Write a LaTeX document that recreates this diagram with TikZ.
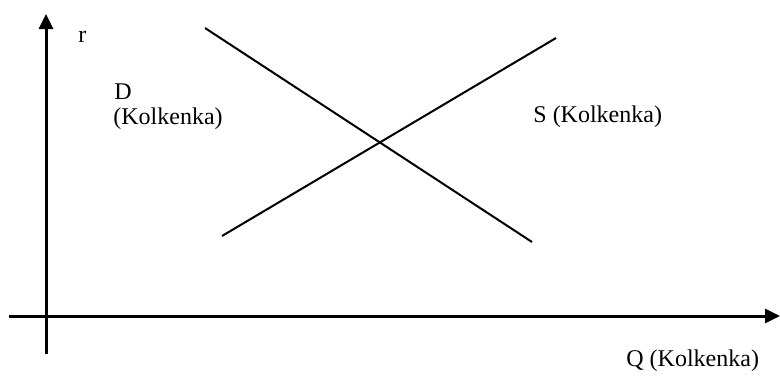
\documentclass[tikz,border=0pt]{standalone}
\usepackage{fontspec}
\setmainfont{Liberation Serif}
\usetikzlibrary{arrows.meta}
\begin{document}
\begin{tikzpicture}[x=0.5pt,y=-0.5pt,
    axis/.style={line width=1.5pt,-{Triangle[length=7.5pt,width=7pt]}},
    curve/.style={line width=1pt},
    lbl/.style={inner sep=0pt,anchor=base west,font=\fontsize{12}{14}\selectfont}]
    \useasboundingbox (0,0) rectangle (780,376);
    % axes
    \coordinate (o) at (46,354);
    \coordinate (rtop) at (46,14);
    \coordinate (qleft) at (9,316);
    \coordinate (qright) at (780,316);
    \draw[axis] (o) -- (rtop);
    \draw[axis] (qleft) -- (qright);
    % demand and supply
    \coordinate (dtop) at (205,28);
    \coordinate (dbot) at (532,242);
    \coordinate (sbot) at (222,236);
    \coordinate (stop) at (556,38);
    \draw[curve] (dtop) -- (dbot);
    \draw[curve] (sbot) -- (stop);
    % labels
    \node[lbl] (rlab) at (78,42) {r};
    \node[lbl] (dlab) at (114,99) {D};
    \node[lbl] (dlab2) at (113,124) {(Kolkenka)};
    \node[lbl] (slab) at (533,122) {S (Kolkenka)};
    \node[lbl] (qlab) at (626,366) {Q (Kolkenka)};
\end{tikzpicture}
\end{document}
